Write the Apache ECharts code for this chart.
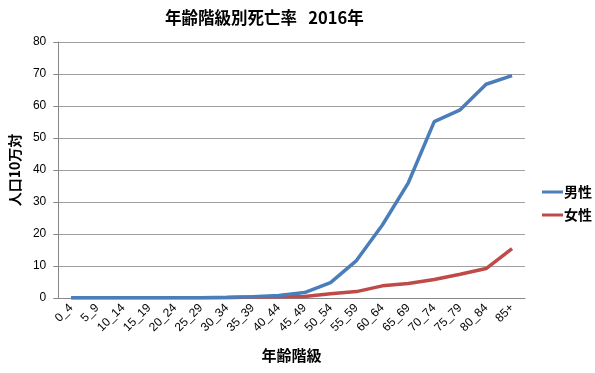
<!DOCTYPE html>
<html><head><meta charset="utf-8">
<script src="https://cdn.jsdelivr.net/npm/echarts@6/dist/echarts.min.js"></script>
<style>html,body{margin:0;padding:0;background:#fff}#c{width:595px;height:373px}</style>
</head><body><div id="c"></div>
<script>
const categories = ['0_4','5_9','10_14','15_19','20_24','25_29','30_34','35_39','40_44','45_49','50_54','55_59','60_64','65_69','70_74','75_79','80_84','85+'];
const male = [0.1,0.1,0.1,0.1,0.1,0.1,0.2,0.4,0.8,1.7,4.8,11.7,22.8,36.0,55.1,58.8,66.8,69.5];
const female = [0.1,0.1,0.1,0.1,0.1,0.1,0.1,0.3,0.4,0.5,1.3,2.0,3.8,4.5,5.8,7.4,9.2,15.4];
const yTicks = {min:0, max:80, interval:10};
const font = '"Noto Sans CJK JP", sans-serif';
const chart = echarts.init(document.getElementById('c'), null, {renderer:'canvas'});
chart.setOption({
  animation:false,
  title:{text:'年齢階級別死亡率   2016年', left:160, top:4, textStyle:{fontFamily:font, fontSize:16.5, fontWeight:'bold', color:'#000'}},
  grid:{left:57, right:70, top:42, bottom:75},
  legend:{orient:'vertical', left:537, top:180, itemWidth:21, itemGap:9, icon:'rect', itemHeight:3,
    textStyle:{fontFamily:font, fontSize:14, fontWeight:'bold', color:'#000', padding:[0,0,0,-4]},
    data:['男性','女性']},
  xAxis:{type:'category', data:categories, boundaryGap:true,
    name:'年齢階級', nameLocation:'middle', nameGap:50,
    nameTextStyle:{fontFamily:font, fontSize:15, fontWeight:'bold', color:'#000'},
    axisLine:{lineStyle:{color:'#888'}}, axisTick:{show:false},
    axisLabel:{rotate:45, interval:0, fontFamily:'"Liberation Sans", sans-serif', fontSize:12, color:'#000', margin:8}},
  yAxis:{type:'value', min:yTicks.min, max:yTicks.max, interval:yTicks.interval,
    name:'人口10万対', nameLocation:'middle', nameGap:35, nameRotate:90,
    nameTextStyle:{fontFamily:font, fontSize:14, fontWeight:'bold', color:'#000'},
    axisLine:{show:true, lineStyle:{color:'#888'}}, axisTick:{show:true, length:5, lineStyle:{color:'#888'}},
    splitLine:{lineStyle:{color:'#a0a0a0'}},
    axisLabel:{fontFamily:'"Liberation Sans", sans-serif', fontSize:12, color:'#000', margin:12}},
  series:[
    {name:'男性', type:'line', data:male, symbol:'none', lineStyle:{width:3.5, color:'#4a7ebb'}, itemStyle:{color:'#4a7ebb'}, z:3},
    {name:'女性', type:'line', data:female, symbol:'none', lineStyle:{width:3.5, color:'#be4b48'}, itemStyle:{color:'#be4b48'}, z:2}
  ]
});
</script></body></html>
